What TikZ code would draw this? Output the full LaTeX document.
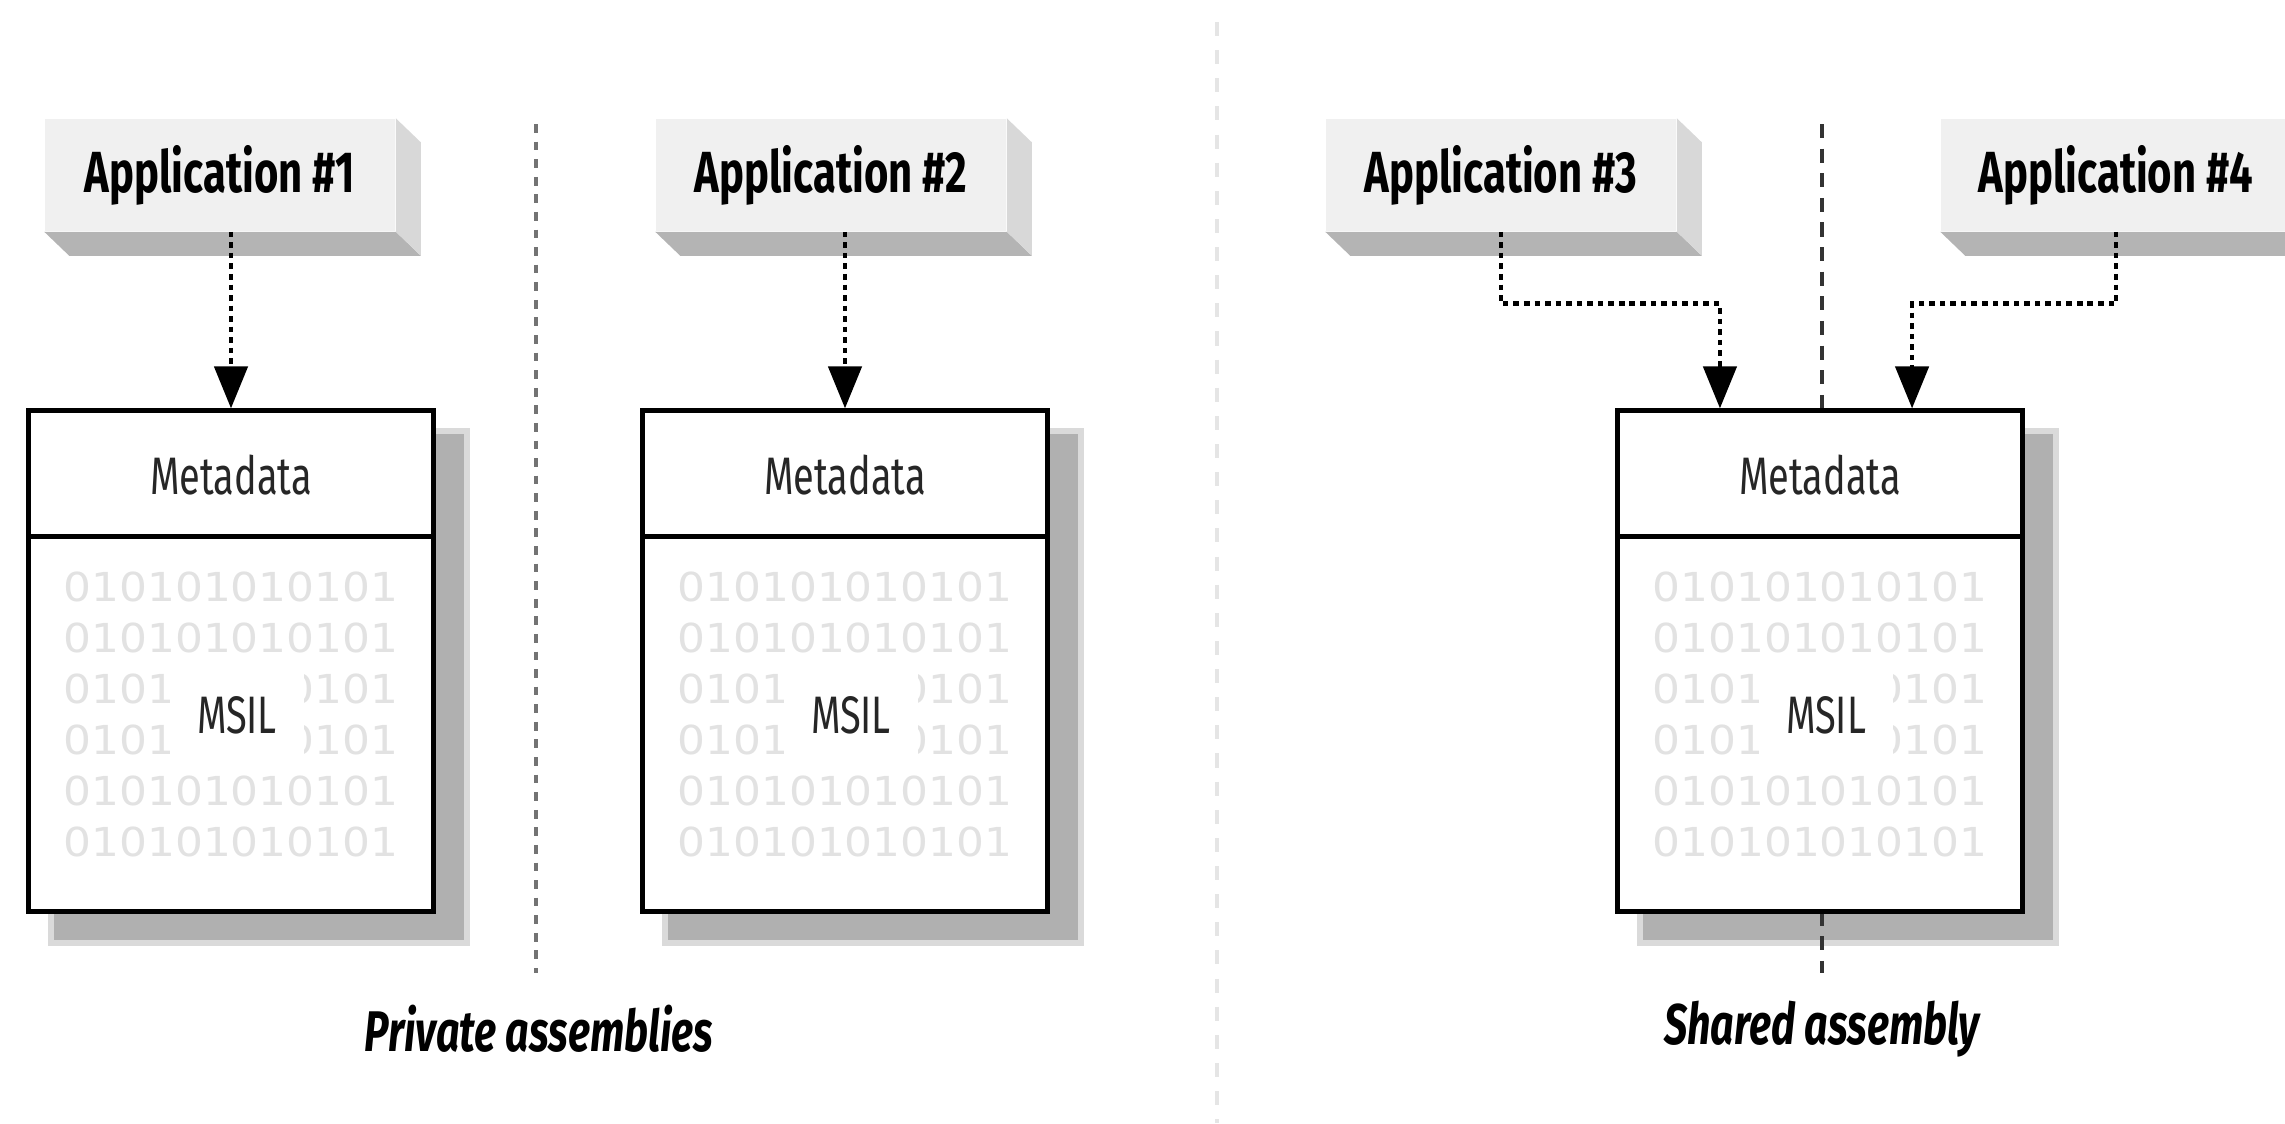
\documentclass[tikz,border=0pt]{standalone}
\usepackage{fontspec}
\newfontfamily\condfont[FakeStretch=0.72]{Fira Sans}
\newfontfamily\bitfont[FakeStretch=1.1]{DejaVu Sans}
\usepackage{tikz}
\usetikzlibrary{arrows.meta,backgrounds}
\definecolor{facegray}{HTML}{F0F0F0}
\definecolor{bottomgray}{HTML}{B4B4B4}
\definecolor{sidegray}{HTML}{D8D8D8}
\definecolor{shadedark}{HTML}{B0B0B0}
\definecolor{shadelight}{HTML}{DADADA}
\definecolor{bitgray}{HTML}{E2E2E2}

\begin{document}
\begin{tikzpicture}[x=0.01cm,y=-0.01cm,
  app/.style={fill=facegray,minimum width=3.5cm,minimum height=1.12cm,inner sep=0pt,font=\condfont\bfseries\fontsize{16.5}{18}\selectfont},
  asm/.style={draw,line width=1.4pt,fill=white,minimum width=4.04cm,minimum height=5cm,inner sep=0pt},
  lbl/.style={inner sep=0pt,text=black!85,font=\condfont\fontsize{15}{16}\selectfont},
  bits/.style={inner sep=0pt,text=bitgray,font=\bitfont\fontsize{11.35}{12}\selectfont},
  caption/.style={font=\condfont\bfseries\itshape\fontsize{16.3}{18}\selectfont},
  link/.style={line width=1.3pt,dash pattern=on 1.6pt off 1.4pt,-{Triangle[length=0.42cm,width=0.33cm]}},
  ]
  \useasboundingbox (0,0) rectangle (2285,1123);
  \clip (0,0) rectangle (2285,1123);

  \draw[black!10,line width=1.2pt,dash pattern=on 4pt off 4pt] (1217,22) -- (1217,1123);
  \draw[black!55,line width=1.2pt,dash pattern=on 2.5pt off 2.5pt] (536,124) -- (536,973);

  \node[app] (app1) at (220,175) {Application \#1};
  \node[app] (app2) at (831,175) {Application \#2};
  \node[app] (app3) at (1501,175) {Application \#3};
  \node[app] (app4) at (2116,175) {Application \#4};
  \foreach \a in {app1,app2,app3,app4} {
    \fill[bottomgray] (\a.south west) -- (\a.south east) -- ([shift={(25,24)}]\a.south east) -- ([shift={(25,24)}]\a.south west) -- cycle;
    \fill[sidegray] (\a.north east) -- ([shift={(25,24)}]\a.north east) -- ([shift={(25,24)}]\a.south east) -- (\a.south east) -- cycle;
  }

  \foreach \n/\x in {1/231,2/845,3/1820} {
    \node[asm] (box\n) at (\x,661) {};
    \draw[line width=1.4pt] ([shift={(0,128)}]box\n.north west) -- ([shift={(0,128)}]box\n.north east);
    \node[lbl] (meta\n) at ([shift={(0,67)}]box\n.north) {Metadata};
    \foreach \r in {0,...,5}
      \node[bits] (bits\n-\r) at ([shift={(0,{179+51*\r})}]box\n.north) {010101010101};
    \node[lbl,fill=white,minimum width=1.34cm,minimum height=0.95cm] (msil\n) at ([shift={(6,307)}]box\n.north) {MSIL};
  }

  \begin{scope}[on background layer]
    \foreach \n in {1,2,3} {
      \fill[shadelight] ([shift={(22,20)}]box\n.north west) rectangle ([shift={(34,32)}]box\n.south east);
      \fill[shadedark] ([shift={(28,26)}]box\n.north west) rectangle ([shift={(28,26)}]box\n.south east);
    }
    \draw[black!80,line width=1.1pt,dash pattern=on 4pt off 3pt] (1822,124) -- (1822,973);
  \end{scope}

  \draw[link] (app1.south -| box1.north) -- (box1.north);
  \draw[link] (app2.south -| box2.north) -- (box2.north);
  \draw[link] (app3.south) -- ++(0,72) -| ([xshift=-1cm]box3.north);
  \draw[link] (app4.south) -- ++(0,72) -| ([xshift=0.92cm]box3.north);

  \node[caption] (private) at (539,1029) {Private assemblies};
  \node[caption] (shared) at (1822,1029) {Shared assembly};
\end{tikzpicture}
\end{document}
